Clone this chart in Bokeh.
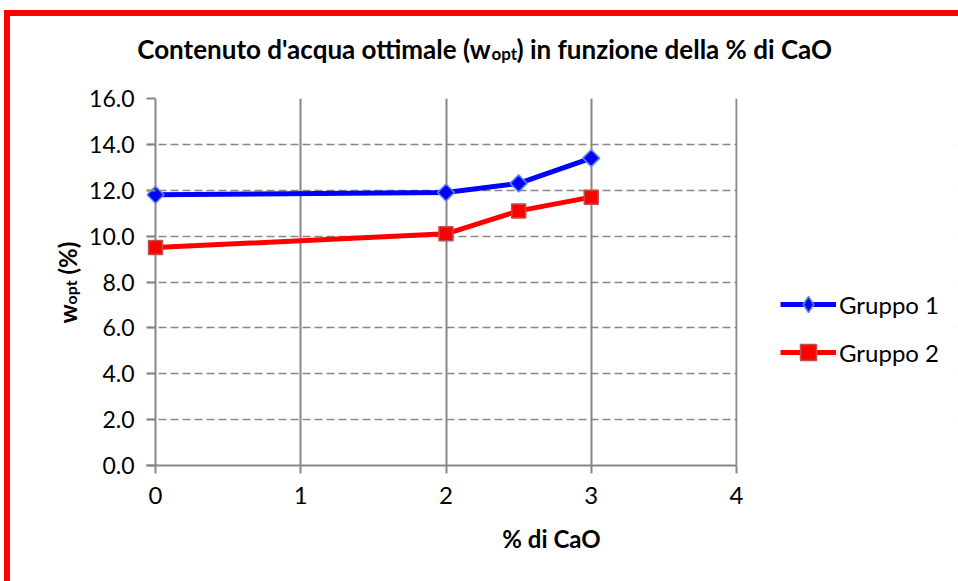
import numpy as np
from bokeh.plotting import figure
from bokeh.layouts import column, row
from bokeh.models import (Range1d, FixedTicker, NumeralTickFormatter, Label, Legend,
                          LegendItem, Grid, BoxAnnotation)
from bokeh.embed import file_html
from bokeh.resources import INLINE

# ---- data ----
cao = [0, 2, 2.5, 3]
gruppo1 = [11.8, 11.9, 12.3, 13.4]
gruppo2 = [9.5, 10.1, 11.1, 11.7]
series_names = ["Gruppo 1", "Gruppo 2"]
x_ticks = [0, 1, 2, 3, 4]
y_ticks = [0, 2, 4, 6, 8, 10, 12, 14, 16]
title_parts = ["Contenuto d'acqua ottimale (w", "opt", ") in funzione della % di CaO"]
ylabel_parts = ["w", "opt", "(%)"]
xlabel = "% di CaO"

FONT = "Lato"
GRAY = "#878787"

# ---- page layout (pixels) ----
OFF_X, OFF_Y = 10, 16               # after the red border
TITLE_H = 66                         # title strip height
YLAB_W = 76                          # y-label strip width
MAIN_W = 958 - OFF_X - YLAB_W
MAIN_H = 581 - OFF_Y - TITLE_H
MX0, MY0 = OFF_X + YLAB_W, OFF_Y + TITLE_H   # main figure page origin
X0_PAGE, X4_PAGE = 155, 736          # page x of 0 and 4
Y16_PAGE, Y0_PAGE = 98, 465          # page y of 16 and 0
PAD = 9                              # frame extends left of x=0 (room for markers)
RIGHT_PAGE = 956                     # frame extends right to hold the legend
ppu = (X4_PAGE - X0_PAGE) / 4.0
FL = X0_PAGE - PAD - MX0
FR = RIGHT_PAGE - MX0
FT = Y16_PAGE - MY0
FB = Y0_PAGE - MY0
X_START = -PAD / ppu
X_END = 4 + (RIGHT_PAGE - X4_PAGE) / ppu


def text_fig(w, h, xr, yr, **borders):
    f = figure(width=w, height=h, x_range=xr, y_range=yr,
               output_backend="svg", toolbar_location=None, title=None,
               x_axis_type=None, y_axis_type=None, **borders)
    f.outline_line_color = None
    f.grid.visible = False
    f.background_fill_color = "white"
    f.border_fill_color = "white"
    return f


common = dict(text_baseline="alphabetic", text_font=FONT, text_font_style="bold",
              text_color="black")

# ---- title strip (ranges are page pixels) ----
tf = text_fig(958 - OFF_X, TITLE_H,
              Range1d(OFF_X, 958), Range1d(OFF_Y + TITLE_H, OFF_Y),
              min_border=0, min_border_left=0, min_border_right=0,
              min_border_top=0, min_border_bottom=0)
TB = 48
tf.add_layout(Label(x=490, y=TB, text=title_parts[0], text_align="right",
                    text_font_size="26px", **common))
tf.add_layout(Label(x=491, y=TB + 5, text=title_parts[1], text_align="left",
                    text_font_size="17px", **common))
tf.add_layout(Label(x=516, y=TB, text=title_parts[2], text_align="left",
                    text_font_size="26px", **common))

# ---- y-label strip (frame matches the plot frame vertically) ----
yf = text_fig(YLAB_W, MAIN_H,
              Range1d(OFF_X, OFF_X + YLAB_W), Range1d(Y0_PAGE, Y16_PAGE),
              min_border=0, min_border_left=0, min_border_right=0,
              min_border_top=FT, min_border_bottom=MAIN_H - FB)
rot = dict(angle=np.pi / 2, text_align="left", **common)
yf.add_layout(Label(x=67, y=323, text=ylabel_parts[0], text_font_size="24px", **rot))
yf.add_layout(Label(x=70, y=304, text=ylabel_parts[1], text_font_size="16px", **rot))
yf.add_layout(Label(x=67, y=274, text=ylabel_parts[2], text_font_size="24px", **rot))

# ---- main plot ----
p = figure(width=MAIN_W, height=MAIN_H, title=None,
           x_range=Range1d(X_START, X_END), y_range=Range1d(0, 16),
           output_backend="svg", toolbar_location=None,
           min_border_left=FL, min_border_right=MAIN_W - FR,
           min_border_top=FT, min_border_bottom=MAIN_H - FB)
p.background_fill_color = "white"
p.border_fill_color = "white"
p.outline_line_color = None

p.xaxis.ticker = FixedTicker(ticks=x_ticks)
p.yaxis.ticker = FixedTicker(ticks=y_ticks)
p.yaxis.formatter = NumeralTickFormatter(format="0.0")
p.xaxis.formatter = NumeralTickFormatter(format="0")
p.xaxis.bounds = (X_START, 4)
for ax in (p.xaxis, p.yaxis):
    ax.axis_line_color = GRAY
    ax.axis_line_width = 2
    ax.major_tick_line_color = GRAY
    ax.major_tick_line_width = 2
    ax.minor_tick_line_color = None
    ax.major_label_text_font = FONT
    ax.major_label_text_color = "black"
p.xaxis.major_label_text_font_size = "24px"
p.yaxis.major_label_text_font_size = "23px"
p.yaxis.axis_line_color = None
p.yaxis.major_tick_out = 0
p.yaxis.major_tick_in = PAD
p.yaxis.major_label_standoff = 12
p.xaxis.major_tick_out = 8
p.xaxis.major_tick_in = 0
p.xaxis.major_label_standoff = 13
p.xaxis.axis_label = xlabel
p.xaxis.axis_label_text_font = FONT
p.xaxis.axis_label_text_font_style = "bold"
p.xaxis.axis_label_text_font_size = "24px"
p.xaxis.axis_label_text_color = "black"
p.xaxis.axis_label_standoff = 17

p.xgrid.grid_line_color = GRAY
p.xgrid.grid_line_width = 2
p.ygrid.grid_line_color = GRAY
p.ygrid.grid_line_width = 1.5
p.ygrid.grid_line_dash = "8 4"
p.add_layout(Grid(dimension=1, ticker=FixedTicker(ticks=[16]),
                  grid_line_color=GRAY, grid_line_width=4))

l1 = p.line(cao, gruppo1, line_color="#0000ff", line_width=5)
m1 = p.scatter(cao, gruppo1, marker="square", angle=np.pi / 4, size=12,
               fill_color="#0000ff", line_color="#5b8fd6", line_width=1.5)
l2 = p.line(cao, gruppo2, line_color="#ff0000", line_width=5)
m2 = p.scatter(cao, gruppo2, marker="square", size=14,
               fill_color="#ff0000", line_color="#c0504d", line_width=1.5)
# legend key for the diamond (legend markers are drawn unrotated); no visible point
k1 = p.scatter(x=[np.nan], y=[np.nan], marker="diamond", fill_color="#0000ff",
               line_color="#5b8fd6", line_width=1.5)

# blank out the area right of the plot (legend area)
p.add_layout(BoxAnnotation(left=4 + 1.0 / ppu, fill_color="white", fill_alpha=1,
                           line_color=None))

legend = Legend(items=[LegendItem(label=series_names[0], renderers=[l1, k1]),
                       LegendItem(label=series_names[1], renderers=[l2, m2])],
                location=(782 - (X0_PAGE - PAD) - 2, Y0_PAGE - 372),
                orientation="vertical",
                glyph_width=56, glyph_height=40, label_height=24,
                spacing=8, padding=0, margin=0, label_standoff=3,
                border_line_color=None, background_fill_alpha=0,
                label_text_font=FONT, label_text_font_size="24px",
                label_text_color="black")
p.add_layout(legend)

layout = column(tf, row(yf, p),
                styles={"margin-left": "4px", "margin-top": "10px",
                        "border-left": "6px solid #ff0000",
                        "border-top": "6px solid #ff0000"})

open("out.html", "w").write(file_html(layout, INLINE))
